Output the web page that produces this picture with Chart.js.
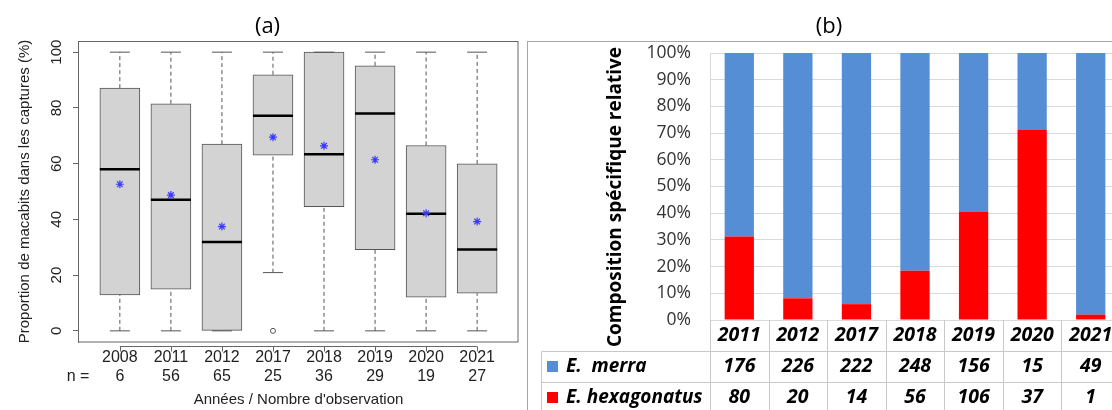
<!DOCTYPE html>
<html>
<head>
<meta charset="utf-8">
<script src="https://cdn.jsdelivr.net/npm/chart.js@4.4.1/dist/chart.umd.min.js"></script>
<style>
  html, body { margin: 0; padding: 0; background: #fff; overflow: hidden; }
  body { width: 1112px; height: 410px; position: relative; }
  #boxA { position: absolute; left: 0; top: 0; width: 520px; height: 410px; }
  #boxB { position: absolute; left: 520px; top: 0; width: 600px; height: 410px; }
</style>
</head>
<body>
<div id="boxA"><canvas id="chartA" width="520" height="410"></canvas></div>
<div id="boxB"><canvas id="chartB" width="600" height="410"></canvas></div>
<script>
"use strict";

// (a) boxplot stats
var yearsA = ["2008", "2011", "2012", "2017", "2018", "2019", "2020", "2021"];
var nObs = [6, 56, 65, 25, 36, 29, 19, 27];
var whiskLow = [0, 0, 0, 20.9, 0, 0, 0, 0];
var q1 = [12.9, 15.0, 0, 63.0, 44.6, 29.1, 12.1, 13.5];
var medians = [58.0, 47.0, 31.9, 77.2, 63.4, 78.0, 42.0, 29.2];
var q3 = [87.1, 81.5, 67.0, 91.9, 100, 95.1, 66.5, 59.9];
var whiskHigh = [100, 100, 100, 100, 100, 100, 100, 100];
var means = [52.6, 48.7, 37.4, 69.5, 66.4, 61.4, 42.2, 39.2];
var outlierIdx = [3];
var outlierVal = [0];
var yTicksA = [0, 20, 40, 60, 80, 100];

// (b) counts per year
var yearsB = ["2011", "2012", "2017", "2018", "2019", "2020", "2021"];
var merra = [176, 226, 222, 248, 156, 15, 49];
var hexagonatus = [80, 20, 14, 56, 106, 37, 1];

var BLUE = "#558ed5";
var RED = "#ff0000";

// ---------- panel (a) ----------
var pos = yearsA.map(function(y, i) { return i + 1; });

var boxes = pos.map(function(x, i) { return { x: x, y: [q1[i], q3[i]] }; });
var whiskers = [];
var caps = [];
pos.forEach(function(x, i) {
  whiskers.push({ x: x, y: whiskLow[i] }, { x: x, y: q1[i] }, { x: x, y: null },
                { x: x, y: q3[i] }, { x: x, y: whiskHigh[i] }, { x: x, y: null });
  caps.push({ x: x, y: whiskLow[i] }, { x: x, y: whiskHigh[i] });
});
var medPts = pos.map(function(x, i) { return { x: x, y: medians[i] }; });
var meanPts = pos.map(function(x, i) { return { x: x, y: means[i] }; });
var outPts = outlierIdx.map(function(k, j) { return { x: pos[k], y: outlierVal[j] }; });

var frameA = {
  id: "frameA",
  afterDatasetsDraw: function(chart) {
    var ctx = chart.ctx;
    var a = chart.chartArea;
    var xs = chart.scales.x;
    ctx.save();
    ctx.strokeStyle = "#666";
    ctx.lineWidth = 1;
    var l = Math.round(a.left) + 0.5, t = Math.round(a.top) + 0.5;
    ctx.strokeRect(l, t, Math.round(a.right) - 1 - l, Math.round(a.bottom) - t);

    // R style axis line below the box
    var yAx = Math.round(a.bottom) + 4.5;
    ctx.beginPath();
    ctx.moveTo(xs.getPixelForValue(pos[0]), yAx);
    ctx.lineTo(xs.getPixelForValue(pos[pos.length - 1]), yAx);
    pos.forEach(function(x) {
      var px = Math.round(xs.getPixelForValue(x)) + 0.5;
      ctx.moveTo(px, yAx);
      ctx.lineTo(px, yAx + 5);
    });
    ctx.stroke();

    ctx.fillStyle = "#222";
    ctx.font = "16px 'Liberation Sans'";
    ctx.textAlign = "center";
    ctx.textBaseline = "middle";
    ctx.fillText("n =", a.left, a.bottom + 6.5 + 19 * 1.5);
    ctx.restore();
  }
};

new Chart(document.getElementById("chartA"), {
  type: "bar",
  data: {
    datasets: [
      { type: "bar", data: boxes, backgroundColor: "#d3d3d3", borderColor: "#555",
        borderWidth: 1, borderSkipped: false, barThickness: 40, order: 6 },
      { type: "line", data: whiskers, borderColor: "#555", borderWidth: 1,
        borderDash: [4, 3], pointRadius: 0, fill: false, order: 5 },
      { type: "scatter", data: caps, pointStyle: "line", pointRadius: 10,
        pointBorderColor: "#555", pointBorderWidth: 1, order: 4 },
      { type: "scatter", data: outPts, pointStyle: "circle", pointRadius: 2.5,
        pointBackgroundColor: "#fff", pointBorderColor: "#555", pointBorderWidth: 1, order: 3 },
      { type: "scatter", data: medPts, pointStyle: "line", pointRadius: 20,
        pointBorderColor: "#000", pointBorderWidth: 2.5, order: 2 },
      { type: "scatter", data: meanPts, pointStyle: "star", pointRadius: 4,
        pointBorderColor: "#3a3aff", pointBorderWidth: 1.2, order: 1 }
    ]
  },
  options: {
    responsive: false,
    animation: false,
    layout: { autoPadding: false, padding: { left: 16, right: 1, top: 0, bottom: 0 } },
    plugins: {
      legend: { display: false },
      tooltip: { enabled: false },
      title: {
        display: true, text: "(a)", color: "#000",
        font: { family: "Open Sans", size: 22, weight: "normal", lineHeight: 1 },
        padding: { top: 16, bottom: 3 }
      }
    },
    scales: {
      x: {
        type: "linear", min: 0.18, max: 8.82, offset: false,
        grid: { display: false, drawTicks: false },
        border: { display: false },
        afterBuildTicks: function(s) { s.ticks = pos.map(function(v) { return { value: v }; }); },
        ticks: {
          autoSkip: false, maxRotation: 0, padding: 6.5, color: "#222",
          font: { family: "Liberation Sans", size: 16, lineHeight: 19 / 16 },
          callback: function(v) { return [yearsA[v - 1], String(nObs[v - 1])]; }
        },
        title: {
          display: true, text: "Années / Nombre d'observation", color: "#222",
          font: { family: "Liberation Sans", size: 15, lineHeight: 1.2 },
          padding: { top: 0, bottom: 1 }
        },
        afterFit: function(s) { s.height = 68; s.paddingLeft = 0; s.paddingRight = 0; }
      },
      y: {
        min: -4, max: 104,
        afterBuildTicks: function(s) { s.ticks = yTicksA.map(function(v) { return { value: v }; }); },
        grid: { display: true, drawOnChartArea: false, drawTicks: true, tickLength: 5, color: "#666" },
        border: { display: true, color: "#666" },
        ticks: {
          minRotation: 90, maxRotation: 90, crossAlign: "center", padding: 3.5, color: "#222",
          font: { family: "Liberation Sans", size: 15 }
        },
        title: {
          display: true, text: "Proportion de macabits dans les captures (%)", color: "#222",
          font: { family: "Liberation Sans", size: 15, lineHeight: 1.2 },
          padding: 0
        },
        afterFit: function(s) { s.width = 62; }
      }
    }
  },
  plugins: [frameA]
});

// ---------- panel (b) ----------
var totals = merra.map(function(m, i) { return m + hexagonatus[i]; });
var pctMerra = merra.map(function(m, i) { return m / totals[i] * 100; });
var pctHexa = hexagonatus.map(function(h, i) { return h / totals[i] * 100; });
var rowH = 31;

var tableB = {
  id: "tableB",
  beforeDraw: function(chart) {
    var ctx = chart.ctx;
    ctx.save();
    ctx.strokeStyle = "#a6a6a6";
    ctx.lineWidth = 1;
    ctx.strokeRect(7.5, 41.5, chart.width + 10, chart.height);
    ctx.restore();
  },
  afterDraw: function(chart) {
    var ctx = chart.ctx;
    var a = chart.chartArea;
    var xs = chart.scales.x;
    var half = (xs.getPixelForValue(1) - xs.getPixelForValue(0)) / 2;
    var bottom = chart.height;
    var tableLeft = 21.5;
    ctx.save();
    ctx.strokeStyle = "#c8c8c8";
    ctx.lineWidth = 1;
    ctx.beginPath();
    for (var i = 0; i <= yearsB.length; i++) {
      var px = Math.round(xs.getPixelForValue(i) - half) + 0.5;
      ctx.moveTo(px, a.bottom);
      ctx.lineTo(px, bottom);
    }
    for (var r = 1; r <= 2; r++) {
      var py = Math.round(a.bottom + r * rowH) + 0.5;
      ctx.moveTo(tableLeft, py);
      ctx.lineTo(chart.width, py);
    }
    ctx.moveTo(tableLeft, Math.round(a.bottom + rowH) + 0.5);
    ctx.lineTo(tableLeft, bottom);
    ctx.stroke();

    // row headers with legend keys
    var rows = [["E.  merra", BLUE], ["E. hexagonatus", RED]];
    ctx.font = "italic bold 19px 'Open Sans'";
    ctx.textAlign = "left";
    ctx.textBaseline = "middle";
    rows.forEach(function(row, k) {
      var cy = a.bottom + (k + 1.5) * rowH;
      ctx.fillStyle = row[1];
      ctx.fillRect(27, Math.round(cy - 5.5), 11, 11);
      ctx.fillStyle = "#000";
      ctx.fillText(row[0], 46, cy);
    });

    // axis title
    ctx.translate(96, 197);
    ctx.rotate(-Math.PI / 2);
    ctx.textAlign = "center";
    ctx.font = "bold 19px 'Open Sans'";
    ctx.fillStyle = "#000";
    ctx.fillText("Composition spécifique relative", 0, 0);
    ctx.restore();
  }
};

new Chart(document.getElementById("chartB"), {
  type: "bar",
  data: {
    labels: yearsB,
    datasets: [
      { label: "E. hexagonatus", data: pctHexa, backgroundColor: RED,
        barPercentage: 0.5, categoryPercentage: 1 },
      { label: "E. merra", data: pctMerra, backgroundColor: BLUE,
        barPercentage: 0.5, categoryPercentage: 1 }
    ]
  },
  options: {
    responsive: false,
    animation: false,
    layout: { padding: { left: 18, right: 0, top: 0, bottom: 0 } },
    plugins: {
      legend: { display: false },
      tooltip: { enabled: false },
      title: {
        display: true, text: "(b)", color: "#000",
        font: { family: "Open Sans", size: 22, weight: "normal", lineHeight: 1 },
        padding: { top: 16, bottom: 15 }
      }
    },
    scales: {
      x: {
        stacked: true,
        grid: { display: false, drawTicks: false },
        border: { display: false },
        ticks: {
          padding: 0, autoSkip: false, maxRotation: 0, color: "#000",
          font: { family: "Open Sans", size: 19.5, weight: "bold", style: "italic", lineHeight: rowH / 19.5 },
          callback: function(v, i) { return [yearsB[i], String(merra[i]), String(hexagonatus[i])]; }
        },
        afterFit: function(s) { s.height = 90; }
      },
      y: {
        stacked: true, min: 0, max: 100,
        grid: { color: "#d9d9d9", drawTicks: false },
        border: { display: true, color: "#d9d9d9" },
        ticks: {
          stepSize: 10, padding: 19, color: "#333",
          font: { family: "Open Sans", size: 17.5 },
          callback: function(v) { return v + "%"; }
        },
        afterFit: function(s) { s.width = 172; }
      }
    }
  },
  plugins: [tableB]
});
</script>
</body>
</html>
